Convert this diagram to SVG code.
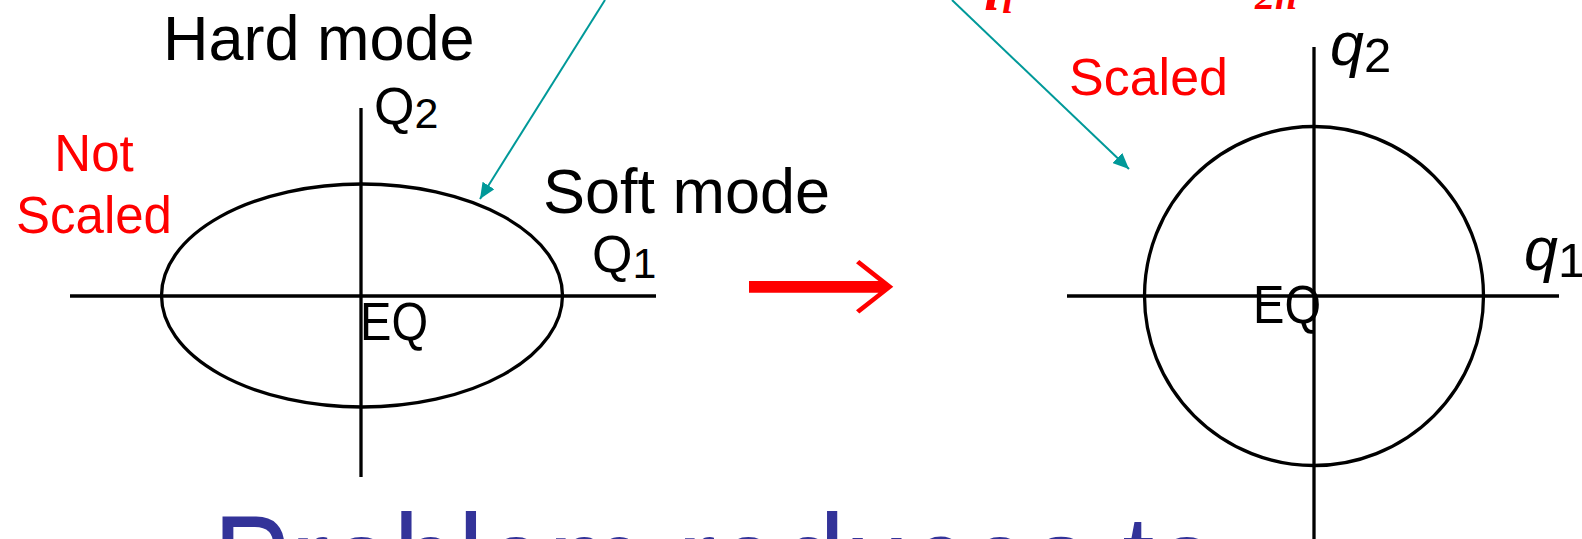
<svg xmlns="http://www.w3.org/2000/svg" width="1582" height="539" viewBox="0 0 1582 539">
<style>
  .ax{stroke:#000;stroke-width:3.3;fill:none}
  .t{font-family:"Liberation Sans",Arial,sans-serif;fill:#000}
  .it{font-style:italic}
  .up{font-style:normal}
  .red{fill:#ff0000}
  .math{font-family:"Liberation Serif","Times New Roman",serif;font-style:italic;font-weight:bold;fill:#ff0000}
  .teal{stroke:#009999;stroke-width:2;fill:none}
  .title{font-family:"Liberation Sans",Arial,sans-serif;fill:#333399}
</style>
<defs>
  <marker id="ah" markerUnits="userSpaceOnUse" viewBox="0 0 16 14" markerWidth="16" markerHeight="14" refX="16" refY="7" orient="auto">
    <path d="M0,0 L16,7 L0,14 z" fill="#009999"/>
  </marker>
</defs>
<rect width="1582" height="539" fill="#ffffff"/>

<g id="formula-top">
  <text class="math" x="972" y="-3" font-size="60">q<tspan font-size="40" dy="16">i</tspan></text>
  <text class="math" x="1255" y="9" font-size="40">2ħ</text>
</g>

<g id="left-plot">
  <ellipse class="ax" cx="362" cy="295.5" rx="200.5" ry="111.5"/>
  <line class="ax" x1="70" y1="296" x2="656" y2="296"/>
  <line class="ax" x1="361" y1="108" x2="361" y2="477"/>
  <text class="t" x="360" y="340" font-size="53" textLength="68" lengthAdjust="spacingAndGlyphs">EQ</text>
</g>
<g id="label-hard-mode"><text class="t" x="163" y="60" font-size="63">Hard mode</text></g>
<g id="label-soft-mode"><text class="t" x="543" y="213" font-size="63">Soft mode</text></g>
<g id="label-Q2"><text class="t" x="374" y="124" font-size="52">Q<tspan font-size="43" dy="4">2</tspan></text></g>
<g id="label-Q1"><text class="t" x="592" y="272" font-size="52">Q<tspan font-size="43" dy="6">1</tspan></text></g>
<g id="label-not-scaled">
  <text class="t red" x="94" y="171" font-size="51" text-anchor="middle">Not</text>
  <text class="t red" x="94" y="233" font-size="51" text-anchor="middle">Scaled</text>
</g>

<g id="right-plot">
  <circle class="ax" cx="1314" cy="296" r="169.5"/>
  <line class="ax" x1="1067" y1="296" x2="1559" y2="296"/>
  <line class="ax" x1="1314" y1="47" x2="1314" y2="539"/>
  <text class="t" x="1253" y="323" font-size="53" textLength="68" lengthAdjust="spacingAndGlyphs">EQ</text>
</g>
<g id="label-scaled"><text class="t red" x="1069" y="95" font-size="52">Scaled</text></g>
<g id="label-q2"><text class="t it" x="1330" y="65" font-size="61">q<tspan class="up" font-size="49" dy="7">2</tspan></text></g>
<g id="label-q1"><text class="t it" x="1524" y="270" font-size="61">q<tspan class="up" font-size="49" dy="7">1</tspan></text></g>

<g id="connectors">
  <line class="teal" x1="605" y1="0" x2="480" y2="199" marker-end="url(#ah)"/>
  <line class="teal" x1="952" y1="0" x2="1129" y2="169" marker-end="url(#ah)"/>
  <polygon fill="#ff0000" points="749,281 878.5,281 856,263.3 859.3,260 893.3,286.8 859.3,313.6 856,310.3 878.5,292.7 749,292.7"/>
</g>

<g id="title-bottom">
  <text class="title" x="213" y="612" font-size="140" textLength="1006" lengthAdjust="spacingAndGlyphs">Problem reduces to</text>
</g>
</svg>
